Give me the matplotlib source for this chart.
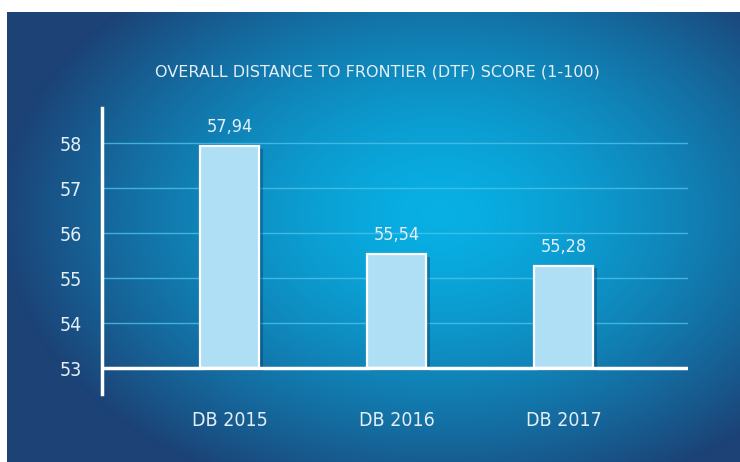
import numpy as np
import matplotlib
matplotlib.use("Agg")
import matplotlib.pyplot as plt
from matplotlib import patheffects as pe
from matplotlib.colors import to_rgb

categories = ["DB 2015", "DB 2016", "DB 2017"]
values = [57.94, 55.54, 55.28]
value_labels = ["57,94", "55,54", "55,28"]
yticks = [53, 54, 55, 56, 57, 58]
title = "OVERALL DISTANCE TO FRONTIER (DTF) SCORE (1-100)"

W, H = 740, 462
fig = plt.figure(figsize=(W / 100, H / 100), dpi=100)
fig.patch.set_facecolor("white")

# background panel with radial gradient
px0, py0, px1, py1 = 7, 12, 740, 462
bg = fig.add_axes([px0 / W, 1 - py1 / H, (px1 - px0) / W, (py1 - py0) / H])
bg.set_axis_off()
gx = np.linspace(px0, px1, 400)
gy = np.linspace(py0, py1, 260)
X, Y = np.meshgrid(gx, gy)
cx, cy, rx, ry = 440, 215, 440, 300
d = np.sqrt(((X - cx) / rx) ** 2 + ((Y - cy) / ry) ** 2)
t = np.clip(d, 0, 1) ** 1.5
c0 = np.array(to_rgb("#08b0e4"))
c1 = np.array(to_rgb("#1c4276"))
img = c0[None, None, :] * (1 - t[..., None]) + c1[None, None, :] * t[..., None]
bg.imshow(img, aspect="auto", extent=[0, 1, 0, 1], origin="upper")
bg.set_xlim(0, 1)
bg.set_ylim(0, 1)

# main axes
ax_left, ax_right = 101.7, 688
ax_top, ax_bottom = 108, 394
ax = fig.add_axes([ax_left / W, 1 - ax_bottom / H, (ax_right - ax_left) / W, (ax_bottom - ax_top) / H])
ax.patch.set_alpha(0)
ppu = 45.0
y53 = 368.3
ax.set_ylim(53 - (ax_bottom - y53) / ppu, 53 + (y53 - ax_top) / ppu)
spacing = 167.0
c0x = 229.5
ax.set_xlim(-(c0x - ax_left) / spacing, (ax_right - c0x) / spacing)

x = np.arange(len(categories))
for yv in yticks[1:]:
    ax.axhline(yv, color="#4cc2ec", lw=1.0, alpha=0.8, zorder=1)

bars = ax.bar(x, [v - 53 for v in values], bottom=53, width=0.35,
              color="#afdff4", edgecolor="white", linewidth=1.6, zorder=3)
for b in bars:
    b.set_path_effects([pe.SimplePatchShadow(offset=(3, -2), shadow_rgbFace="#0a2a50", alpha=0.35), pe.Normal()])

ax.axhline(53, color="white", lw=2.5, zorder=4)

fam = "DejaVu Sans"
st = "condensed"
txt_color = "#e4eef6"
for xi, v, lab in zip(x, values, value_labels):
    ax.annotate(lab, (xi, v), xytext=(0, 7), textcoords="offset points",
                ha="center", va="bottom", fontsize=13, color=txt_color,
                family=fam, fontstretch=st, zorder=5)

for s in ["top", "right", "bottom"]:
    ax.spines[s].set_visible(False)
ax.spines["left"].set_color("white")
ax.spines["left"].set_linewidth(2.5)

ax.set_yticks(yticks)
ax.set_yticklabels([str(v) for v in yticks], family=fam, fontstretch=st, fontsize=14, color=txt_color)
ax.tick_params(axis="y", length=0, pad=14)
ax.set_xticks(x)
ax.set_xticklabels(categories, family=fam, fontstretch=st, fontsize=14, color=txt_color)
ax.tick_params(axis="x", length=0, pad=12)

fig.text(377 / W, 1 - 72 / H, title, ha="center", va="center",
         fontsize=11.5, color=txt_color, family=fam)

fig.savefig("out.png", dpi=100, facecolor="white")
